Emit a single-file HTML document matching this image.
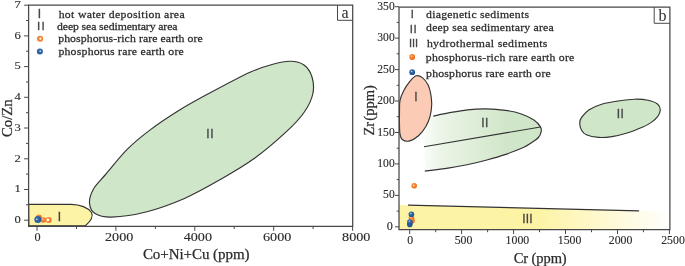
<!DOCTYPE html>
<html><head><meta charset="utf-8"><title>figure</title>
<style>html,body{margin:0;padding:0;background:#fff}svg{display:block}</style></head>
<body>
<svg width="685" height="266" viewBox="0 0 685 266">
<defs>
<linearGradient id="gg" gradientUnits="userSpaceOnUse" x1="421" y1="0" x2="508" y2="0"><stop offset="0" stop-color="#fcfefb"/><stop offset="0.22" stop-color="#ecf5e8"/><stop offset="1" stop-color="#d0e6c8"/></linearGradient>
<linearGradient id="yg" gradientUnits="userSpaceOnUse" x1="536" y1="0" x2="672" y2="0"><stop offset="0" stop-color="#fdf3a4"/><stop offset="1" stop-color="#ffffff"/></linearGradient>
<radialGradient id="og" cx="0.4" cy="0.36" r="0.62"><stop offset="0" stop-color="#ffe9d6"/><stop offset="0.28" stop-color="#f68b3d"/><stop offset="1" stop-color="#ee6a1c"/></radialGradient>
<radialGradient id="bg" cx="0.4" cy="0.36" r="0.62"><stop offset="0" stop-color="#dfeaf7"/><stop offset="0.28" stop-color="#3a6fb0"/><stop offset="1" stop-color="#1f4f8f"/></radialGradient>
<radialGradient id="og2" cx="0.36" cy="0.48" r="0.66"><stop offset="0" stop-color="#ffffff"/><stop offset="0.22" stop-color="#fff1e4"/><stop offset="0.45" stop-color="#f68b3d"/><stop offset="1" stop-color="#ee6a1c"/></radialGradient>
<radialGradient id="bg2" cx="0.36" cy="0.48" r="0.66"><stop offset="0" stop-color="#f4f8fd"/><stop offset="0.1" stop-color="#a9c4e6"/><stop offset="0.24" stop-color="#3a6fb0"/><stop offset="1" stop-color="#1f4f8f"/></radialGradient>
<radialGradient id="og3" cx="0.55" cy="0.47" r="0.6"><stop offset="0" stop-color="#ffffff"/><stop offset="0.18" stop-color="#fff1e4"/><stop offset="0.4" stop-color="#f68b3d"/><stop offset="1" stop-color="#ee6a1c"/></radialGradient>
<radialGradient id="bg3" cx="0.55" cy="0.45" r="0.6"><stop offset="0" stop-color="#f4f8fd"/><stop offset="0.14" stop-color="#a9c4e6"/><stop offset="0.3" stop-color="#3a6fb0"/><stop offset="1" stop-color="#1f4f8f"/></radialGradient>
<radialGradient id="og4" cx="0.42" cy="0.44" r="0.62"><stop offset="0" stop-color="#fff4ea"/><stop offset="0.14" stop-color="#fbc59c"/><stop offset="0.34" stop-color="#f68b3d"/><stop offset="1" stop-color="#ee6a1c"/></radialGradient>
<radialGradient id="bgf" cx="0.4" cy="0.4" r="0.7"><stop offset="0" stop-color="#2f63a6"/><stop offset="1" stop-color="#1f4f8f"/></radialGradient>
<clipPath id="cr"><rect x="399.0" y="7" width="270.9" height="223"/></clipPath>
</defs>
<rect width="685" height="266" fill="#fff"/>
<path d="M28.6 204.4L71 204.4C80 204.6 88 208 91.5 212.5C93.2 216 91 221 85.3 225.8L28.8 225.8Z" fill="#fdf3a4" stroke="#333" stroke-width="1.15"/>
<path d="M290.2 61.3C295.5 61.4 300.4 62.4 304.0 65.0C307.6 67.6 310.5 72.2 312.0 77.0C313.5 81.8 314.1 88.1 312.8 94.0C311.5 99.9 308.4 106.2 304.0 112.5C299.6 118.8 294.6 124.1 286.4 131.7C278.2 139.3 265.9 150.1 254.9 158.0C244.0 165.9 232.5 172.5 220.7 179.3C208.9 186.1 196.4 193.2 183.9 198.7C171.4 204.1 157.9 208.9 145.9 212.0C133.9 215.1 120.2 216.8 111.7 217.1C103.2 217.3 98.7 215.8 95.0 213.5C91.3 211.2 89.8 207.1 89.5 203.0C89.2 198.9 90.9 193.7 93.5 189.0C96.1 184.3 99.4 181.6 105.1 175.0C110.8 168.4 119.9 156.7 127.4 149.2C134.9 141.7 141.4 136.5 150.2 129.9C159.0 123.3 169.8 116.1 180.0 109.8C190.2 103.5 199.9 98.3 211.6 92.1C223.3 85.8 239.9 76.9 250.0 72.3C260.1 67.7 265.3 66.3 272.0 64.5C278.7 62.7 284.9 61.2 290.2 61.3Z" fill="#d0e6c8" stroke="#333" stroke-width="1.15"/>
<g stroke="#484848" stroke-width="1.25" fill="none">
<path d="M28.6 5.2L352.7 5.2L352.7 226.4L28.6 226.4Z"/>
<path d="M337.5 5.2V20.3H352.5" stroke-width="1"/>
<path d="M28.6 220.2H24.1M28.6 204.8H26.0M28.6 189.5H24.1M28.6 174.1H26.0M28.6 158.8H24.1M28.6 143.4H26.0M28.6 128.0H24.1M28.6 112.7H26.0M28.6 97.3H24.1M28.6 82.0H26.0M28.6 66.6H24.1M28.6 51.2H26.0M28.6 35.9H24.1M28.6 20.5H26.0M28.6 5.2H24.1M37.0 226.4V230.8M76.5 226.4V229.0M115.9 226.4V230.8M155.4 226.4V229.0M194.8 226.4V230.8M234.2 226.4V229.0M273.7 226.4V230.8M313.1 226.4V229.0M352.6 226.4V230.8" stroke-width="1"/>
</g>
<g clip-path="url(#cr)">
<path d="M399.0 204.9L669.9 211.8V229.65H399.0Z" fill="url(#yg)"/>
</g>
<path d="M433.3 116.1C435.8 115.6 442.8 113.9 448.5 112.9C454.2 111.9 461.1 110.6 467.4 109.9C473.7 109.2 480.1 108.8 486.4 108.9C492.7 109.0 499.7 109.6 505.4 110.4C511.1 111.2 515.9 112.1 520.6 113.7C525.4 115.3 530.6 117.8 533.9 119.9C537.2 122.1 539.1 124.7 540.3 126.6C541.5 128.5 541.5 129.5 541.2 131.3C540.9 133.1 540.1 135.6 538.4 137.5C536.7 139.4 533.4 141.4 531.0 143.0C528.6 144.6 528.2 145.3 523.9 147.2C519.5 149.1 511.2 152.4 504.9 154.6C498.6 156.8 492.2 158.5 485.9 160.2C479.6 161.9 473.2 163.5 466.9 164.8C460.6 166.1 455.0 167.1 448.0 168.1C441.0 169.1 428.7 170.6 424.8 171.1L424.3 146.8L425 120Z" fill="url(#gg)"/>
<path d="M433.3 116.1C435.8 115.6 442.8 113.9 448.5 112.9C454.2 111.9 461.1 110.6 467.4 109.9C473.7 109.2 480.1 108.8 486.4 108.9C492.7 109.0 499.7 109.6 505.4 110.4C511.1 111.2 515.9 112.1 520.6 113.7C525.4 115.3 530.6 117.8 533.9 119.9C537.2 122.1 539.1 124.7 540.3 126.6C541.5 128.5 541.5 129.5 541.2 131.3C540.9 133.1 540.1 135.6 538.4 137.5C536.7 139.4 533.4 141.4 531.0 143.0C528.6 144.6 528.2 145.3 523.9 147.2C519.5 149.1 511.2 152.4 504.9 154.6C498.6 156.8 492.2 158.5 485.9 160.2C479.6 161.9 473.2 163.5 466.9 164.8C460.6 166.1 455.0 167.1 448.0 168.1C441.0 169.1 428.7 170.6 424.8 171.1" fill="none" stroke="#333" stroke-width="1.15"/>
<path d="M424 146.7L540.5 127" fill="none" stroke="#333" stroke-width="1.15"/>
<path d="M579.7 123.0C579.7 120.8 580.0 119.5 581.6 117.3C583.2 115.1 585.7 111.9 589.2 109.7C592.7 107.5 597.7 105.4 602.4 104.0C607.1 102.6 612.2 101.9 617.6 101.1C623.0 100.3 629.6 99.3 634.7 99.2C639.8 99.1 644.2 99.4 648.0 100.2C651.8 101.0 655.5 102.4 657.5 104.0C659.5 105.6 660.2 107.7 660.3 109.7C660.3 111.8 659.3 114.2 657.8 116.3C656.2 118.4 653.6 120.8 651.0 122.6C648.4 124.4 646.3 125.5 642.3 127.2C638.3 128.9 632.2 131.4 627.1 133.0C622.0 134.6 616.6 135.9 611.9 136.6C607.1 137.3 602.9 137.7 598.6 137.4C594.3 137.1 589.1 136.0 586.3 134.8C583.5 133.6 582.7 132.2 581.6 130.2C580.5 128.2 579.7 125.2 579.7 123.0Z" fill="#d0e6c8" stroke="#333" stroke-width="1.15"/>
<g clip-path="url(#cr)"><path d="M416.2 75.8C418.4 75.2 420.6 76.4 422.6 77.9C424.6 79.4 426.6 82.1 428.0 84.7C429.4 87.3 430.1 90.5 430.7 93.8C431.3 97.1 431.8 100.8 431.7 104.5C431.6 108.2 431.1 112.3 430.2 115.9C429.2 119.5 427.9 123.0 426.0 126.3C424.1 129.6 421.3 133.3 418.5 135.8C415.7 138.3 411.8 140.5 409.0 141.1C406.2 141.7 403.5 140.5 402.0 139.2C400.5 137.9 400.3 135.9 399.9 133.5C399.5 131.1 399.6 128.6 399.5 125.0C399.4 121.4 399.4 116.1 399.5 112.0C399.6 107.9 399.3 104.0 400.0 100.5C400.7 97.0 402.1 93.9 403.7 90.8C405.3 87.7 407.6 84.2 409.7 81.7C411.8 79.2 414.0 76.4 416.2 75.8Z" fill="#fccbb6" stroke="#333" stroke-width="1.15"/></g>
<path d="M408 205.1L639.1 210.9" fill="none" stroke="#333" stroke-width="1.15"/>
<g stroke="#484848" stroke-width="1.25" fill="none">
<path d="M399.0 7.0L669.9 7.0L669.9 229.7L399.0 229.7Z"/>
<path d="M654.2 7V23.3H669.9" stroke-width="1"/>
<path d="M399.0 226.8H395.0M399.0 211.1H396.7M399.0 195.4H395.0M399.0 179.6H396.7M399.0 163.9H395.0M399.0 148.2H396.7M399.0 132.5H395.0M399.0 116.7H396.7M399.0 101.0H395.0M399.0 85.3H396.7M399.0 69.6H395.0M399.0 53.8H396.7M399.0 38.1H395.0M399.0 22.4H396.7M399.0 6.7H395.0M409.7 229.7V234.1M435.7 229.7V232.2M461.6 229.7V234.1M487.6 229.7V232.2M513.6 229.7V234.1M539.5 229.7V232.2M565.5 229.7V234.1M591.5 229.7V232.2M617.5 229.7V234.1M643.4 229.7V232.2M669.4 229.7V234.1" stroke-width="1"/>
</g>
<circle cx="38.9" cy="217.4" r="3.0" fill="url(#og)"/>
<circle cx="43.4" cy="220.0" r="2.7" fill="url(#og)"/>
<circle cx="48.7" cy="220.0" r="3.0" fill="url(#og2)"/>
<circle cx="37.8" cy="219.4" r="3.5" fill="url(#bg2)"/>
<circle cx="414.2" cy="185.7" r="2.8" fill="url(#og4)"/>
<circle cx="411.5" cy="218.0" r="2.8" fill="url(#og)"/>
<circle cx="412.0" cy="220.7" r="2.8" fill="url(#og)"/>
<circle cx="411.4" cy="214.3" r="2.8" fill="url(#bg)"/>
<circle cx="409.8" cy="224.4" r="2.8" fill="url(#bgf)"/>
<circle cx="409.9" cy="222.0" r="2.8" fill="url(#bg)"/>
<circle cx="40.1" cy="38.8" r="3.0" fill="url(#og3)"/>
<circle cx="39.9" cy="51.4" r="3.0" fill="url(#bg3)"/>
<circle cx="412.2" cy="57.0" r="2.9" fill="url(#og)"/>
<circle cx="412.2" cy="72.2" r="2.9" fill="url(#bg)"/>
<g font-family="'Liberation Serif', 'DejaVu Serif', serif" fill="#2b2b2b" stroke="#2b2b2b" stroke-width="0.25">
<text transform="translate(58.7 18.2) scale(1.06 1)" font-size="11.1" textLength="118.8" lengthAdjust="spacing">hot water deposition area</text>
<text transform="translate(57.0 30.3) scale(1.06 1)" font-size="11.1" textLength="113.7" lengthAdjust="spacing">deep sea sedimentary area</text>
<text transform="translate(58.2 42.3) scale(1.06 1)" font-size="11.1" textLength="136.3" lengthAdjust="spacing">phosphorus-rich rare earth ore</text>
<text transform="translate(58.4 54.9) scale(1.06 1)" font-size="11.1" textLength="118.3" lengthAdjust="spacing">phosphorus rare earth ore</text>
<text transform="translate(426.1 17.6) scale(1.06 1)" font-size="11.1" textLength="97.1" lengthAdjust="spacing">diagenetic sediments</text>
<text transform="translate(426.1 31.2) scale(1.06 1)" font-size="11.1" textLength="120.3" lengthAdjust="spacing">deep sea sedimentary area</text>
<text transform="translate(426.9 47.0) scale(1.06 1)" font-size="11.1" textLength="113.7" lengthAdjust="spacing">hydrothermal sediments</text>
<text transform="translate(425.8 60.5) scale(1.06 1)" font-size="11.1" textLength="140.1" lengthAdjust="spacing">phosphorus-rich rare earth ore</text>
<text transform="translate(426.1 76.5) scale(1.06 1)" font-size="11.1" textLength="117.6" lengthAdjust="spacing">phosphorus rare earth ore</text>
<g stroke-width="0.12">
<text x="14.5" y="222.9" font-size="11.3" textLength="6.3" lengthAdjust="spacingAndGlyphs">0</text>
<text x="14.5" y="192.2" font-size="11.3" textLength="6.3" lengthAdjust="spacingAndGlyphs">1</text>
<text x="14.5" y="161.5" font-size="11.3" textLength="6.3" lengthAdjust="spacingAndGlyphs">2</text>
<text x="14.5" y="130.7" font-size="11.3" textLength="6.3" lengthAdjust="spacingAndGlyphs">3</text>
<text x="14.5" y="100.0" font-size="11.3" textLength="6.3" lengthAdjust="spacingAndGlyphs">4</text>
<text x="14.5" y="69.3" font-size="11.3" textLength="6.3" lengthAdjust="spacingAndGlyphs">5</text>
<text x="14.5" y="38.6" font-size="11.3" textLength="6.3" lengthAdjust="spacingAndGlyphs">6</text>
<text x="14.5" y="7.9" font-size="11.3" textLength="6.3" lengthAdjust="spacingAndGlyphs">7</text>
<text x="34.4" y="240.5" font-size="12.2" textLength="6.1" lengthAdjust="spacingAndGlyphs">0</text>
<text x="105.0" y="240.5" font-size="12.2" textLength="28.3" lengthAdjust="spacingAndGlyphs">2000</text>
<text x="183.7" y="240.5" font-size="12.2" textLength="28.3" lengthAdjust="spacingAndGlyphs">4000</text>
<text x="263.0" y="240.5" font-size="12.2" textLength="28.3" lengthAdjust="spacingAndGlyphs">6000</text>
<text x="342.1" y="240.5" font-size="12.2" textLength="28.3" lengthAdjust="spacingAndGlyphs">8000</text>
<text x="386.8" y="229.8" font-size="11.6" textLength="6.1" lengthAdjust="spacingAndGlyphs">0</text>
<text x="394.7" y="198.4" font-size="11.6" text-anchor="end">50</text>
<text x="394.7" y="166.9" font-size="11.6" text-anchor="end">100</text>
<text x="394.7" y="135.5" font-size="11.6" text-anchor="end">150</text>
<text x="394.7" y="104.0" font-size="11.6" text-anchor="end">200</text>
<text x="394.7" y="72.6" font-size="11.6" text-anchor="end">250</text>
<text x="394.7" y="41.1" font-size="11.6" text-anchor="end">300</text>
<text x="394.7" y="9.7" font-size="11.6" text-anchor="end">350</text>
<text x="407.2" y="244.2" font-size="11.8" text-anchor="start">0</text>
<text x="454.7" y="244.2" font-size="11.8" text-anchor="start">500</text>
<text x="505.6" y="244.2" font-size="11.8" text-anchor="start">1000</text>
<text x="557.8" y="244.2" font-size="11.8" text-anchor="start">1500</text>
<text x="608.8" y="244.2" font-size="11.8" text-anchor="start">2000</text>
<text x="661.2" y="244.2" font-size="11.8" text-anchor="start">2500</text>
</g>
<text x="142.9" y="259.2" font-size="15.0" text-anchor="start" textLength="106.6" lengthAdjust="spacing">Co+Ni+Cu (ppm)</text>
<text x="513.7" y="262.6" font-size="14.5" text-anchor="start" textLength="53.0" lengthAdjust="spacing">Cr (ppm)</text>
<text transform="translate(12.2 137.0) rotate(-90)" font-size="14.8" textLength="37.6" lengthAdjust="spacing">Co/Zn</text>
<text transform="translate(374.2 135.5) rotate(-90)" font-size="14.5">Zr <tspan dx="-2.5">(ppm)</tspan></text>
<text x="345.0" y="17.6" font-size="16.0" text-anchor="middle" stroke="none">a</text>
<text x="662.4" y="20.8" font-size="16.0" text-anchor="middle" stroke="none">b</text>
</g>
<g font-family="'Liberation Sans', 'DejaVu Sans', sans-serif" fill="#454545" stroke="#454545" stroke-width="0.3" font-size="12">
<text x="39.4" y="17.6" font-size="12.0" text-anchor="middle">I</text>
<text x="41.5" y="30.3" font-size="11.5" text-anchor="middle" letter-spacing="1.2">II</text>
<text x="59.4" y="221.0" font-size="12.0" text-anchor="middle">I</text>
<text x="210.2" y="137.6" font-size="12.0" text-anchor="middle" letter-spacing="0.5">II</text>
<text x="412.2" y="17.7" font-size="11.0" text-anchor="middle">I</text>
<text x="413.6" y="33.0" font-size="11.5" text-anchor="middle" letter-spacing="0.6">II</text>
<text x="413.6" y="47.4" font-size="11.0" text-anchor="middle">III</text>
<text x="415.8" y="100.9" font-size="12.0" text-anchor="middle">I</text>
<text x="485.1" y="127.2" font-size="12.0" text-anchor="middle" letter-spacing="0.5">II</text>
<text x="620.6" y="118.0" font-size="12.0" text-anchor="middle" letter-spacing="0.5">II</text>
<text x="527.6" y="222.9" font-size="12.0" text-anchor="middle" letter-spacing="0.2">III</text>
</g>
</svg>
</body></html>
